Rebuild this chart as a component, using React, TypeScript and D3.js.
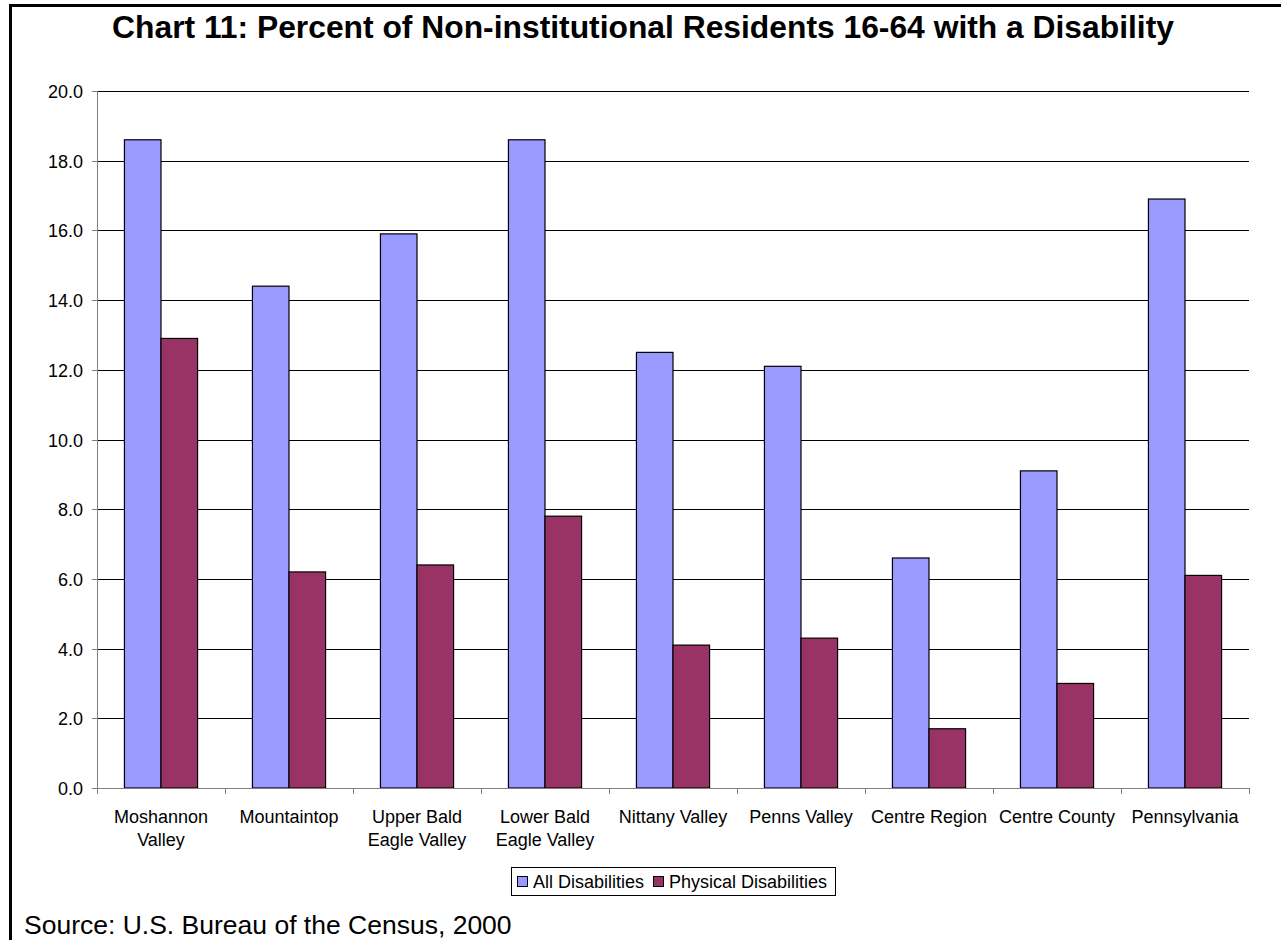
import React from "react";
import * as d3 from "d3";

const categories: string[][] = [
  ["Moshannon", "Valley"],
  ["Mountaintop"],
  ["Upper Bald", "Eagle Valley"],
  ["Lower Bald", "Eagle Valley"],
  ["Nittany Valley"],
  ["Penns Valley"],
  ["Centre Region"],
  ["Centre County"],
  ["Pennsylvania"],
];
const allDisabilities = [18.6, 14.4, 15.9, 18.6, 12.5, 12.1, 6.6, 9.1, 16.9];
const physicalDisabilities = [12.9, 6.2, 6.4, 7.8, 4.1, 4.3, 1.7, 3.0, 6.1];
const yTicks = [0, 2, 4, 6, 8, 10, 12, 14, 16, 18, 20];
const seriesNames = ["All Disabilities", "Physical Disabilities"];
const seriesColors = ["#9999FF", "#993366"];

const W = 1285;
const H = 940;
const plot = { left: 97, right: 1249, top: 91, bottom: 788 };
const font = "'Liberation Sans', Arial, sans-serif";

export default function App() {
  const x = d3
    .scaleBand<number>()
    .domain(d3.range(categories.length))
    .range([plot.left, plot.right])
    .paddingInner(0)
    .paddingOuter(0);
  const y = d3.scaleLinear().domain([0, 20]).range([plot.bottom, plot.top]);
  const bw = x.bandwidth() / 3.5;
  const series = [allDisabilities, physicalDisabilities];

  return (
    <svg
      width={W}
      height={H}
      style={{ position: "absolute", left: 0, top: 0, background: "#fff" }}
      fontFamily={font}
    >
      {/* frame */}
      <line x1={10.5} y1={4} x2={10.5} y2={H} stroke="#000" strokeWidth={3} />
      <line x1={9} y1={5.5} x2={1281} y2={5.5} stroke="#000" strokeWidth={3} />

      <text x={643} y={38} textAnchor="middle" fontSize={31.8} fontWeight="bold">
        Chart 11: Percent of Non-institutional Residents 16-64 with a Disability
      </text>

      {/* gridlines */}
      {yTicks
        .filter((t) => t > 0)
        .map((t) => (
          <line
            key={"g" + t}
            x1={plot.left}
            x2={plot.right}
            y1={Math.round(y(t)) + 0.5}
            y2={Math.round(y(t)) + 0.5}
            stroke="#000"
            strokeWidth={1}
          />
        ))}

      {/* bars */}
      {series.map((vals, si) =>
        vals.map((v, i) => {
          const x0 = (x(i) as number) + x.bandwidth() * (0.75 / 3.5) + si * bw;
          return (
            <rect
              key={si + "-" + i}
              x={x0}
              y={y(v)}
              width={bw}
              height={y(0) - y(v)}
              fill={seriesColors[si]}
              stroke="#000"
              strokeWidth={1.2}
            />
          );
        })
      )}

      {/* y axis */}
      <line x1={plot.left + 0.5} x2={plot.left + 0.5} y1={plot.top} y2={plot.bottom} stroke="#808080" />
      {yTicks.map((t) => (
        <g key={"y" + t}>
          <line
            x1={plot.left - 5}
            x2={plot.left}
            y1={Math.round(y(t)) + 0.5}
            y2={Math.round(y(t)) + 0.5}
            stroke="#808080"
          />
          <text x={plot.left - 14} y={y(t) + 7} textAnchor="end" fontSize={18}>
            {t.toFixed(1)}
          </text>
        </g>
      ))}

      {/* x axis */}
      <line x1={plot.left} x2={plot.right} y1={plot.bottom + 0.5} y2={plot.bottom + 0.5} stroke="#808080" />
      {d3.range(categories.length + 1).map((i) => {
        const xx = Math.round(plot.left + i * x.step()) + 0.5;
        return <line key={"xt" + i} x1={xx} x2={xx} y1={plot.bottom} y2={plot.bottom + 6} stroke="#808080" />;
      })}
      {categories.map((lines, i) => (
        <text key={"c" + i} textAnchor="middle" fontSize={18}>
          {lines.map((l, j) => (
            <tspan key={j} x={(x(i) as number) + x.bandwidth() / 2} y={823 + j * 22.5}>
              {l}
            </tspan>
          ))}
        </text>
      ))}

      {/* legend */}
      <rect x={511.5} y={867.5} width={324} height={28} fill="#fff" stroke="#000" />
      {seriesNames.map((n, i) => {
        const lx = i === 0 ? 517.5 : 653.5;
        return (
          <g key={n}>
            <rect x={lx} y={876.5} width={10} height={10} fill={seriesColors[i]} stroke="#000" />
            <text x={lx + 15.5} y={887.5} fontSize={18}>
              {n}
            </text>
          </g>
        );
      })}

      <text x={24} y={934} fontSize={26.5}>
        Source: U.S. Bureau of the Census, 2000
      </text>
    </svg>
  );
}
